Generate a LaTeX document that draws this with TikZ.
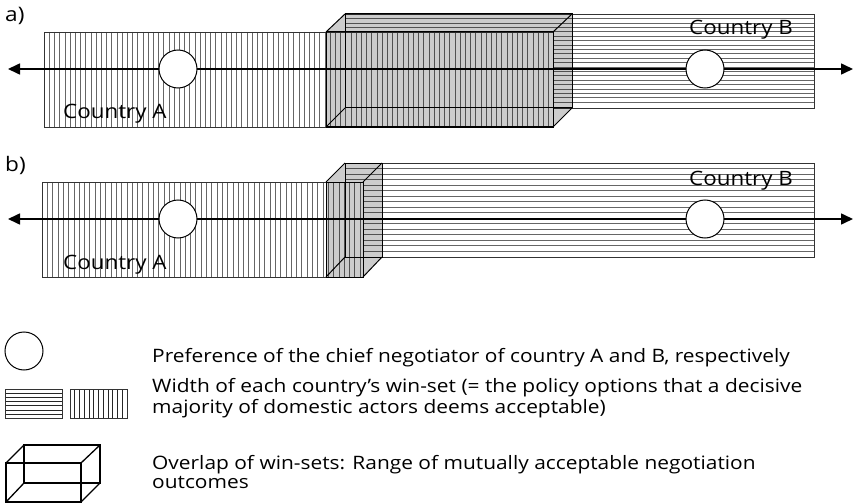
\documentclass[tikz,border=0pt]{standalone}
\usepackage{fontspec}
\setmainfont[FakeStretch=1.13]{Open Sans}
\usetikzlibrary{arrows.meta}
\begin{document}
\begin{tikzpicture}[x=1pt,y=-1pt,
  hatch/.style={black!60, line width=0.55pt},
  keyhatch/.style={black!85, line width=0.7pt},
  frame/.style={draw=black!80, line width=0.8pt},
  overlap/.style={fill=black, fill opacity=0.2},
  edge/.style={black, line width=1pt},
  keyedge/.style={black, line width=1.3pt},
  axis/.style={line width=1.6pt, {Triangle[length=12pt,width=11pt]}-{Triangle[length=12pt,width=11pt]}},
  pref/.style={circle, draw, fill=white, line width=1pt, minimum size=38pt, inner sep=0pt},
  country/.style={font=\fontsize{19.8}{24}\selectfont, anchor=base west, inner sep=0pt},
  panel/.style={font=\fontsize{20}{24}\selectfont, anchor=base west, inner sep=0pt},
  legend/.style={font=\fontsize{18.5}{22}\selectfont, anchor=base west, inner sep=0pt}
]
\useasboundingbox (0,0) rectangle (855,503);

% ---------------- panel a: wide overlap ----------------
\node[panel] (labA) at (5,22) {a)};
% win-set of country B (horizontal hatching)
\fill[white] (345,14) rectangle (814,108);
\foreach \y in {18.4,22.8,...,106} \draw[hatch] (345,\y) -- (814,\y);
\draw[frame] (345,14) rectangle (814,108);
% win-set of country A (vertical hatching)
\fill[white] (44,32) rectangle (553,127);
\foreach \x in {49.2,54.4,...,551} \draw[hatch] (\x,32) -- (\x,127);
\draw[frame] (44,32) rectangle (553,127);
% overlap box
\fill[overlap] (326,127) -- (326,32) -- (345,14) -- (572,14) -- (572,108) -- (553,127) -- cycle;
\draw[edge] (326,32) rectangle (553,127);
\draw[edge] (345,14) rectangle (572,108);
\draw[edge] (326,32) -- (345,14) (553,32) -- (572,14)
            (553,127) -- (572,108) (326,127) -- (345,108);
% policy axis and preferences
\coordinate (axLa) at (8,69);
\coordinate (axRa) at (853,69);
\draw[axis] (axLa) -- (axRa);
\node[pref] (prefAa) at (178,69) {};
\node[pref] (prefBa) at (705,69) {};
\node[country] (cAa) at (63,119) {Country A};
\node[country] (cBa) at (689,35) {Country B};

% ---------------- panel b: narrow overlap ----------------
\node[panel] (labB) at (5,171) {b)};
\fill[white] (345,163) rectangle (814,257);
\foreach \y in {168.5,174,...,256} \draw[hatch] (345,\y) -- (814,\y);
\draw[frame] (345,163) rectangle (814,257);
\fill[white] (42,182) rectangle (363,277);
\foreach \x in {47.3,52.6,...,361} \draw[hatch] (\x,182) -- (\x,277);
\draw[frame] (42,182) rectangle (363,277);
\fill[overlap] (326,277) -- (326,182) -- (345,163) -- (382,163) -- (382,257) -- (363,277) -- cycle;
\draw[edge] (326,182) rectangle (363,277);
\draw[edge] (345,163) rectangle (382,257);
\draw[edge] (326,182) -- (345,163) (363,182) -- (382,163)
            (363,277) -- (382,257) (326,277) -- (345,257);
\coordinate (axLb) at (8,219);
\coordinate (axRb) at (853,219);
\draw[axis] (axLb) -- (axRb);
\node[pref] (prefAb) at (178,219) {};
\node[pref] (prefBb) at (705,219) {};
\node[country] (cAb) at (63,269) {Country A};
\node[country] (cBb) at (689,185) {Country B};

% ---------------- key ----------------
\node[pref] (keyPref) at (24,351) {};
\fill[white] (5,389) rectangle (62,418);
\foreach \y in {393.1,397.3,...,416} \draw[keyhatch] (5,\y) -- (62,\y);
\draw[frame] (5,389) rectangle (62,418);
\fill[white] (70,389) rectangle (127,418);
\foreach \x in {74.75,79.5,...,125} \draw[keyhatch] (\x,389) -- (\x,418);
\draw[frame] (70,389) rectangle (127,418);
\draw[keyedge] (6,463) rectangle (81,502);
\draw[keyedge] (24,445) rectangle (100,483);
\draw[keyedge] (6,463) -- (24,445) (81,463) -- (100,445)
               (81,502) -- (100,483) (6,502) -- (24,483);

\node[legend] (key1) at (152,362) {Preference of the chief negotiator of country A and B, respectively};
\node[legend] (key2) at (152,392) {Width of each country’s win-set (= the policy options that a decisive};
\node[legend] (key2b) at (152,413) {majority of domestic actors deems acceptable)};
\node[legend] (key3) at (152,469) {Overlap of win-sets: Range of mutually acceptable negotiation};
\node[legend] (key3b) at (152,488) {outcomes};
\end{tikzpicture}
\end{document}
